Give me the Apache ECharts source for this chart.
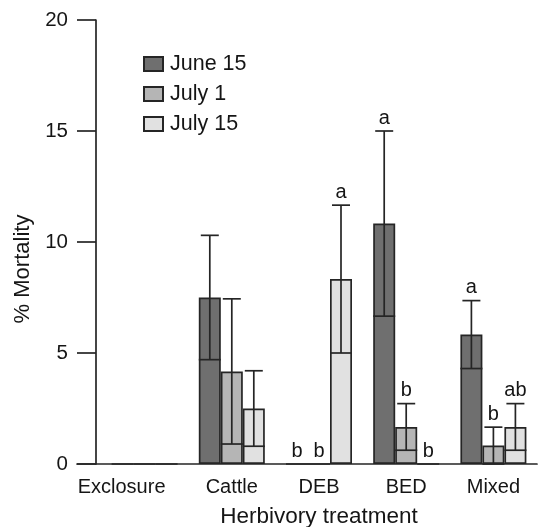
<!DOCTYPE html>
<html>
<head>
<meta charset="utf-8">
<script src="https://cdn.jsdelivr.net/npm/echarts@6/dist/echarts.min.js"></script>
<style>
html,body{margin:0;padding:0;background:#fff;}
#chart{width:538px;height:527px;}
</style>
</head>
<body>
<div id="chart"></div>
<script>
const categories = ['Exclosure', 'Cattle', 'DEB', 'BED', 'Mixed'];
const seriesNames = ['June 15', 'July 1', 'July 15'];
const june15 = [0, 7.5, 0, 10.83, 5.83];
const july1 = [0, 4.17, 0, 1.67, 0.83];
const july15 = [0, 2.5, 8.33, 0, 1.67];
const june15Err = [0, 2.8, 0, 4.17, 1.53];
const july1Err = [0, 3.27, 0, 1.05, 0.83];
const july15Err = [0, 1.7, 3.33, 0, 1.05];
const june15Letters = ['', '', 'b', 'a', 'a'];
const july1Letters = ['', '', 'b', 'b', 'b'];
const july15Letters = ['', '', 'a', 'b', 'ab'];
const yMin = 0, yMax = 20, yStep = 5;

const FONT = 'Liberation Sans, Arial, sans-serif';
const TXT = '#151515';
const LINE = '#252525';
const colors = ['#6f6f6f', '#b5b5b5', '#e1e1e1'];
const BAR_W = 22;

const values = [june15, july1, july15];
const errs = [june15Err, july1Err, july15Err];
const letters = [june15Letters, july1Letters, july15Letters];

const chart = echarts.init(document.getElementById('chart'), null, {renderer: 'canvas'});

function errSeries(k) {
  const off = (k - 1) * BAR_W;
  return {
    type: 'custom',
    name: seriesNames[k] + ' err',
    xAxisIndex: 0, yAxisIndex: 0,
    z: 10,
    silent: true,
    encode: {x: 0, y: 1},
    data: categories.map((c, i) => [i, values[k][i], errs[k][i]]),
    renderItem: function (params, api) {
      const i = api.value(0), v = api.value(1), e = api.value(2);
      const p = api.coord([i, v]);
      const x = p[0] + off;
      const yTop = api.coord([i, v + e])[1];
      const yBot = api.coord([i, Math.max(0, v - e)])[1];
      const children = [];
      const st = {stroke: LINE, lineWidth: 1.7};
      if (e > 0) {
        children.push({type: 'line', shape: {x1: x, y1: yTop, x2: x, y2: yBot}, style: st});
        children.push({type: 'line', shape: {x1: x - 9, y1: yTop, x2: x + 9, y2: yTop}, style: st});
        children.push({type: 'line', shape: {x1: x - BAR_W / 2, y1: yBot, x2: x + BAR_W / 2, y2: yBot}, style: st});
      }
      const L = letters[k][params.dataIndex];
      if (L) {
        children.push({type: 'text', x: x, y: yTop - 3,
          style: {text: L, fill: TXT, font: '20px ' + FONT, align: 'center', verticalAlign: 'bottom'}});
      }
      return {type: 'group', children: children};
    }
  };
}

const barSeries = values.map((arr, k) => ({
  type: 'bar',
  name: seriesNames[k],
  data: arr,
  barWidth: BAR_W,
  barGap: '0%',
  xAxisIndex: 0, yAxisIndex: 0,
  itemStyle: {color: colors[k], borderColor: LINE, borderWidth: 1.7},
  emphasis: {disabled: true}
}));

const option = {
  backgroundColor: '#fff',
  animation: false,
  textStyle: {fontFamily: FONT, color: TXT},
  legend: {
    data: seriesNames,
    orient: 'vertical',
    left: 138, top: 48,
    itemWidth: 19, itemHeight: 14, itemGap: 8,
    icon: 'rect',
    textStyle: {fontSize: 21.5, color: TXT, fontFamily: FONT, padding: [0, 0, 0, 2]}
  },
  grid: [
    {left: 101, right: 1, top: 20, bottom: 63, outerBoundsMode: 'none', containLabel: false},
    {left: 77, right: 1, top: 20, bottom: 63, outerBoundsMode: 'none', containLabel: false}
  ],
  xAxis: [
    {
      type: 'category', gridIndex: 0, data: categories,
      axisLine: {show: false},
      axisTick: {show: false},
      axisLabel: {
        fontSize: 20, color: TXT, fontFamily: FONT, margin: 13, interval: 0,
        formatter: (v, idx) => idx === 0 ? '{s|' + v + '}' : v,
        rich: {s: {fontSize: 20, color: TXT, fontFamily: FONT, padding: [0, 46, 0, 0]}}
      },
      name: 'Herbivory treatment', nameLocation: 'middle', nameGap: 41,
      nameTextStyle: {fontSize: 22.5, color: TXT, fontFamily: FONT}
    },
    {
      type: 'value', gridIndex: 1, min: 0, max: 1,
      axisLine: {show: true, lineStyle: {color: LINE, width: 1.7}},
      axisTick: {show: false}, axisLabel: {show: false}, splitLine: {show: false}
    }
  ],
  yAxis: [
    {
      type: 'value', gridIndex: 0, min: yMin, max: yMax, interval: yStep,
      offset: 5,
      axisLine: {show: true, lineStyle: {color: LINE, width: 1.7}},
      axisTick: {show: true, length: 19, lineStyle: {color: LINE, width: 1.7}},
      axisLabel: {fontSize: 20.5, color: TXT, fontFamily: FONT, margin: 28},
      splitLine: {show: false},
      name: '% Mortality', nameLocation: 'middle', nameGap: 61, nameRotate: 90,
      nameTextStyle: {fontSize: 22, color: TXT, fontFamily: FONT, padding: [0, 54, 0, 0]}
    },
    {type: 'value', gridIndex: 1, show: false, min: 0, max: 1}
  ],
  series: barSeries.concat([errSeries(0), errSeries(1), errSeries(2)])
};
chart.setOption(option);
</script>
</body>
</html>
